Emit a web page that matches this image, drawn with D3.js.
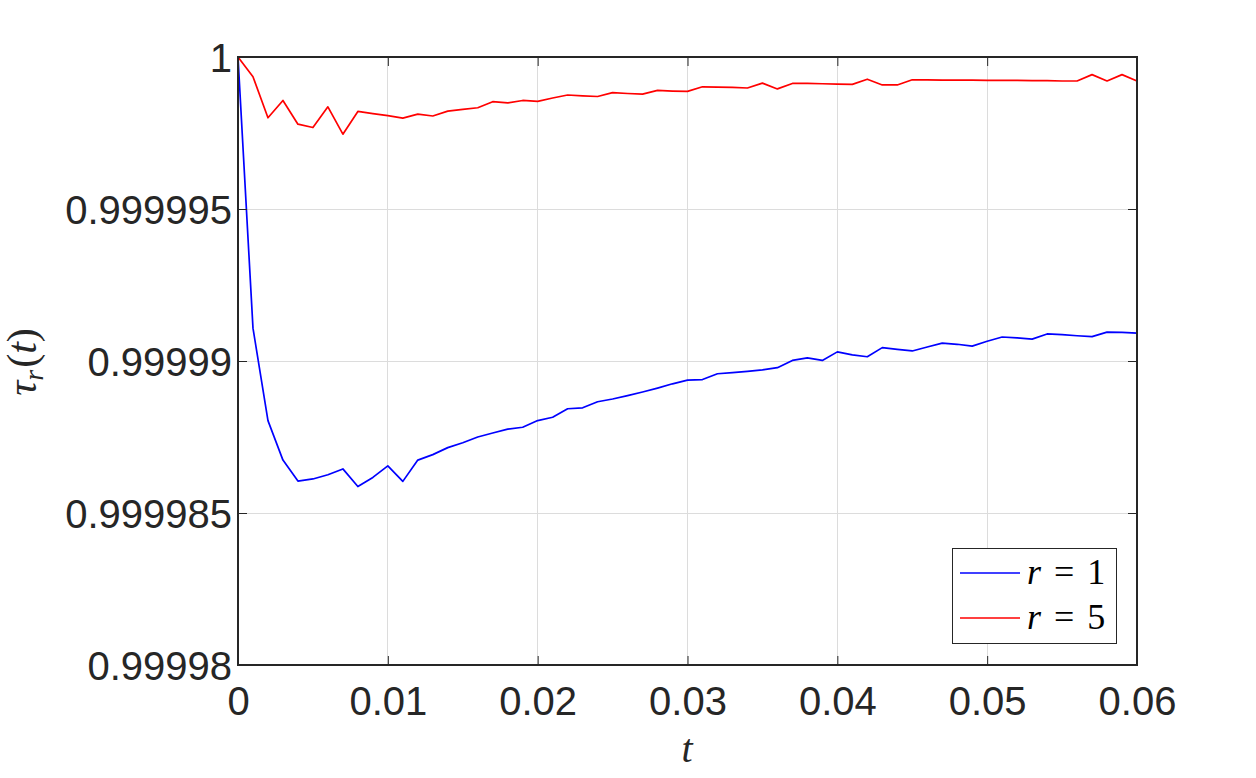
<!DOCTYPE html>
<html>
<head>
<meta charset="utf-8">
<script src="https://cdn.jsdelivr.net/npm/d3@7"></script>
<style>
html,body{margin:0;padding:0;background:#fff;}
svg{display:block;}
</style>
</head>
<body>
<svg id="chart" width="1256" height="778"></svg>
<script>
// ---- data ----
const tValues = [
  0.000,0.001,0.002,0.003,0.004,0.005,0.006,0.007,0.008,0.009,
  0.010,0.011,0.012,0.013,0.014,0.015,0.016,0.017,0.018,0.019,
  0.020,0.021,0.022,0.023,0.024,0.025,0.026,0.027,0.028,0.029,
  0.030,0.031,0.032,0.033,0.034,0.035,0.036,0.037,0.038,0.039,
  0.040,0.041,0.042,0.043,0.044,0.045,0.046,0.047,0.048,0.049,
  0.050,0.051,0.052,0.053,0.054,0.055,0.056,0.057,0.058,0.059,
  0.060
];
const tauR1 = [
  1.00000000,0.99999108,0.99998804,0.99998674,0.99998605,0.99998612,0.99998626,0.99998645,0.99998587,0.99998617,
  0.99998655,0.99998604,0.99998674,0.99998692,0.99998715,0.99998731,0.99998750,0.99998763,0.99998776,0.99998782,
  0.99998804,0.99998815,0.99998843,0.99998846,0.99998866,0.99998875,0.99998886,0.99998898,0.99998911,0.99998925,
  0.99998937,0.99998939,0.99998958,0.99998962,0.99998966,0.99998971,0.99998978,0.99999002,0.99999010,0.99999002,
  0.99999030,0.99999020,0.99999014,0.99999044,0.99999038,0.99999033,0.99999046,0.99999059,0.99999055,0.99999049,
  0.99999065,0.99999079,0.99999076,0.99999072,0.99999089,0.99999087,0.99999083,0.99999080,0.99999095,0.99999094,
  0.99999092
];
const tauR5 = [
  1.00000000,0.99999935,0.99999800,0.99999857,0.99999779,0.99999768,0.99999836,0.99999746,0.99999821,0.99999814,
  0.99999807,0.99999799,0.99999812,0.99999806,0.99999822,0.99999828,0.99999833,0.99999853,0.99999849,0.99999857,
  0.99999854,0.99999865,0.99999875,0.99999872,0.99999870,0.99999883,0.99999880,0.99999878,0.99999890,0.99999888,
  0.99999887,0.99999902,0.99999901,0.99999900,0.99999898,0.99999914,0.99999895,0.99999913,0.99999913,0.99999912,
  0.99999911,0.99999910,0.99999927,0.99999908,0.99999908,0.99999925,0.99999925,0.99999924,0.99999924,0.99999924,
  0.99999923,0.99999923,0.99999923,0.99999922,0.99999922,0.99999921,0.99999921,0.99999942,0.99999921,0.99999942,
  0.99999921
];
const xTicks = [0, 0.01, 0.02, 0.03, 0.04, 0.05, 0.06];
const xTickLabels = ["0", "0.01", "0.02", "0.03", "0.04", "0.05", "0.06"];
const yTicks = [0.99998, 0.999985, 0.99999, 0.999995, 1];
const yTickLabels = ["0.99998", "0.999985", "0.99999", "0.999995", "1"];
const seriesNames = ["r = 1", "r = 5"];
const seriesColors = ["#0000ff", "#ff0000"];

// ---- layout ----
const pL = 238, pR = 1137, pT = 57, pB = 665;
const svg = d3.select("#chart");
const x = d3.scaleLinear().domain([0, 0.06]).range([pL, pR]);
const y = d3.scaleLinear().domain([0.99998, 1]).range([pB, pT]);
const axisColor = "#262626";
const tickFont = "'Liberation Sans', Arial, Helvetica, sans-serif";

// grid
const grid = svg.append("g");
grid.selectAll("line.gx").data(xTicks.slice(1, -1)).join("line")
  .attr("x1", d => x(d)).attr("x2", d => x(d)).attr("y1", pT).attr("y2", pB)
  .attr("stroke", "#dcdcdc").attr("stroke-width", 1).attr("shape-rendering", "crispEdges");
grid.selectAll("line.gy").data(yTicks.slice(1, -1)).join("line")
  .attr("y1", d => y(d)).attr("y2", d => y(d)).attr("x1", pL).attr("x2", pR)
  .attr("stroke", "#dcdcdc").attr("stroke-width", 1).attr("shape-rendering", "crispEdges");

// series
const line = d3.line().x((d, i) => x(tValues[i])).y(d => y(d));
[tauR1, tauR5].forEach((s, k) => {
  svg.append("path").datum(s).attr("d", line)
    .attr("fill", "none").attr("stroke", seriesColors[k]).attr("stroke-width", 1.7)
    .attr("stroke-linejoin", "round");
});

// axes
function styleAxis(g) {
  g.select(".domain").remove();
  g.selectAll(".tick line").attr("stroke", axisColor).attr("stroke-width", 1);
  g.selectAll(".tick text").attr("fill", axisColor).attr("font-family", tickFont).attr("font-size", 40);
}
const xAxis = svg.append("g").attr("transform", `translate(0,${pB})`)
  .call(d3.axisBottom(x).tickValues(xTicks).tickSize(-9).tickPadding(0)
    .tickFormat((d, i) => xTickLabels[i]));
styleAxis(xAxis);
xAxis.selectAll(".tick text").attr("y", 50).attr("dy", null);

const xAxisTop = svg.append("g").attr("transform", `translate(0,${pT})`)
  .call(d3.axisTop(x).tickValues(xTicks).tickSize(-9).tickFormat(""));
styleAxis(xAxisTop);

const yAxis = svg.append("g").attr("transform", `translate(${pL},0)`)
  .call(d3.axisLeft(y).tickValues(yTicks).tickSize(-9).tickPadding(0)
    .tickFormat((d, i) => yTickLabels[i]));
styleAxis(yAxis);
yAxis.selectAll(".tick text").attr("x", -6).attr("dy", "0.36em");

const yAxisRight = svg.append("g").attr("transform", `translate(${pR},0)`)
  .call(d3.axisRight(y).tickValues(yTicks).tickSize(-9).tickFormat(""));
styleAxis(yAxisRight);

// box
svg.append("rect").attr("x", pL).attr("y", pT).attr("width", pR - pL).attr("height", pB - pT)
  .attr("fill", "none").attr("stroke", axisColor).attr("stroke-width", 1.2).attr("shape-rendering", "crispEdges");

// axis labels
const serif = "'Liberation Serif', 'Times New Roman', serif";
svg.append("text").attr("x", 687).attr("y", 762).attr("text-anchor", "middle")
  .attr("font-family", serif).attr("font-style", "italic").attr("font-size", 40).attr("fill", axisColor).text("t");

const yl = svg.append("text").attr("transform", "translate(36,362) rotate(-90)").attr("text-anchor", "middle")
  .attr("font-family", serif).attr("font-size", 42).attr("fill", axisColor);
yl.append("tspan").attr("font-style", "italic").text("τ");
yl.append("tspan").attr("font-style", "italic").attr("font-size", 28).attr("dy", 7).text("r");
yl.append("tspan").attr("dy", -7).attr("dx", 2).text("(");
yl.append("tspan").attr("font-style", "italic").text("t");
yl.append("tspan").text(")");

// legend
const lg = svg.append("g");
lg.append("rect").attr("x", 952.5).attr("y", 548.5).attr("width", 164).attr("height", 95)
  .attr("fill", "#fff").attr("stroke", axisColor).attr("stroke-width", 1);
seriesNames.forEach((name, k) => {
  const yy = 573 + k * 45;
  lg.append("line").attr("x1", 960).attr("x2", 1020).attr("y1", yy).attr("y2", yy)
    .attr("stroke", seriesColors[k]).attr("stroke-width", 1.7);
  const t = lg.append("text").attr("x", 1027).attr("y", yy + 11)
    .attr("font-family", serif).attr("font-size", 36).attr("fill", "#000");
  const parts = name.split(" ");
  t.append("tspan").attr("font-style", "italic").text(parts[0]);
  t.append("tspan").attr("dx", 13).text(parts[1]);
  t.append("tspan").attr("dx", 13).text(parts[2]);
});
</script>
</body>
</html>
